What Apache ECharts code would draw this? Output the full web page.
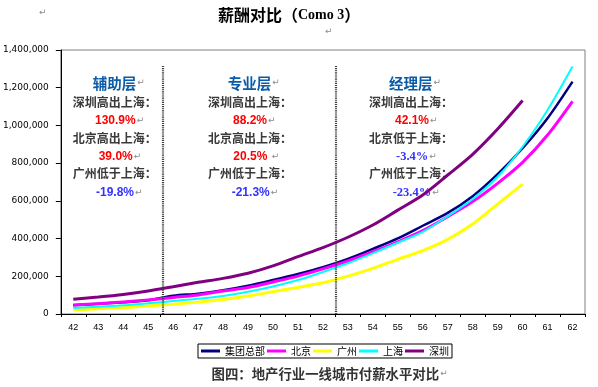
<!DOCTYPE html>
<html>
<head>
<meta charset="utf-8">
<script src="https://cdn.jsdelivr.net/npm/echarts@6/dist/echarts.min.js"></script>
<style>
html,body{margin:0;padding:0;background:#fff;}
#c{width:598px;height:387px;}
</style>
</head>
<body>
<div id="c"></div>
<script>
// ---- data ----
const ages = [42,43,44,45,46,47,48,49,50,51,52,53,54,55,56,57,58,59,60,61,62];
const hq        = [46000,54000,62000,73000,97000,108000,126000,150000,180000,212000,248000,292000,345000,401000,468000,536000,625000,742000,879000,1038000,1232000];
const beijing   = [48000,55000,63000,74000,88000,101000,122000,141000,170000,201000,239000,281000,330000,383000,442000,516000,596000,693000,804000,949000,1128000];
const guangzhou = [23000,28000,34000,43000,52000,63000,77000,95000,118000,141000,166000,201000,242000,290000,336000,396000,477000,583000,689000];
const shanghai  = [32000,39000,46000,57000,69000,81000,96000,118000,146000,180000,223000,269000,322000,378000,436000,518000,610000,728000,887000,1082000,1312000];
const shenzhen  = [78000,90000,104000,122000,145000,168000,189000,216000,255000,304000,352000,407000,472000,551000,631000,737000,847000,981000,1132000];
const seriesNames = ['集团总部','北京','广州','上海','深圳'];
const dividerAges = [45.6, 52.5];
const dividerTop = 1315000;

const levels = ['辅助层','专业层','经理层'];
const szLabels = ['深圳高出上海：','深圳高出上海：','深圳高出上海：'];
const szValues = ['130.9%','88.2%','42.1%'];
const bjLabels = ['北京高出上海：','北京高出上海：','北京低于上海：'];
const bjValues = ['39.0%','20.5% ','-3.4%'];
const gzLabels = ['广州低于上海：','广州低于上海：','广州低于上海：'];
const gzValues = ['-19.8%','-21.3%','-23.4%'];
const titleText = ['薪酬对比（','Como 3','）'];
const captionText = '图四：地产行业一线城市付薪水平对比';

// ---- chart ----
const colors = ['#000080','#ff00ff','#ffff00','#00ffff','#800080'];
const widths = [2.5,3,3,2,3];
const allData = [hq, beijing, guangzhou, shanghai, shenzhen];

const CJK = '"Noto Sans CJK SC", sans-serif';
const RET = {fontSize: 9, fontFamily: 'DejaVu Sans', fill: '#8a8a8a', color: '#8a8a8a', padding:[0,0,0,1]};

function txt(x, y, parts, extra) {
  return Object.assign({
    type: 'text', x: x, y: y, silent: true,
    style: {
      text: parts,
      textAlign: 'left', align: 'left',
      textVerticalAlign: 'middle', verticalAlign: 'middle',
      rich: {
        lv: {fontSize: 14.5, fontWeight: 'bold', fontFamily: CJK, fill: '#0b5ca8', color: '#0b5ca8'},
        lb: {fontSize: 12, fontWeight: 'bold', fontFamily: CJK, fill: '#3a3a3a', color: '#3a3a3a'},
        red: {fontSize: 12, fontWeight: 'bold', fontFamily: 'Liberation Sans', fill: '#ff0000', color: '#ff0000'},
        blue: {fontSize: 12, fontWeight: 'bold', fontFamily: 'Liberation Sans', fill: '#3333ff', color: '#3333ff'},
        blueS: {fontSize: 12.5, fontWeight: 'bold', fontFamily: 'Liberation Serif', fill: '#3333ff', color: '#3333ff'},
        r: RET
      }
    }
  }, extra || {});
}

const colX = {
  lv: [92.7, 227.7, 389],
  lb: [72.7, 208, 369],
  sz: [95, 233, 395],
  bj: [98.7, 233.3, 396],
  gz: [96, 231.7, 392.7]
};
const rowY = [83, 102, 121, 138.5, 157, 173.5, 193];

const graphics = [];
for (let i = 0; i < 3; i++) {
  graphics.push(txt(colX.lv[i], rowY[0], '{lv|' + levels[i] + '}{r|↵}'));
  graphics.push(txt(colX.lb[i], rowY[1], '{lb|' + szLabels[i] + '}'));
  graphics.push(txt(colX.sz[i], rowY[2], '{red|' + szValues[i] + '}{r|↵}'));
  graphics.push(txt(colX.lb[i], rowY[3], '{lb|' + bjLabels[i] + '}'));
  const bjStyle = bjValues[i].indexOf('-') === 0 ? 'blueS' : 'red';
  graphics.push(txt(colX.bj[i], rowY[4], '{' + bjStyle + '|' + bjValues[i] + '}{r|↵}'));
  graphics.push(txt(colX.lb[i], rowY[5], '{lb|' + gzLabels[i] + '}'));
  const gzStyle = i === 2 ? 'blueS' : 'blue';
  graphics.push(txt(colX.gz[i], rowY[6], '{' + gzStyle + '|' + gzValues[i] + '}{r|↵}'));
}
// title
graphics.push({
  type: 'text', x: 218, y: 15, silent: true,
  style: {
    text: '{a|' + titleText[0] + '}{b|' + titleText[1] + '}{a|' + titleText[2] + '}',
    textAlign: 'left', align: 'left', textVerticalAlign: 'middle', verticalAlign: 'middle',
    rich: {
      a: {fontSize: 16, fontWeight: 'bold', fontFamily: CJK, fill: '#000', color: '#000'},
      b: {fontSize: 14, fontWeight: 'bold', fontFamily: 'Liberation Serif', fill: '#000', color: '#000'}
    }
  }
});
graphics.push(txt(38, 13, '{r|↵}'));
graphics.push(txt(324, 32, '{r|↵}'));
// caption
graphics.push({
  type: 'text', x: 211.5, y: 374, silent: true,
  style: {
    text: '{c|' + captionText + '}{r|↵}',
    textAlign: 'left', align: 'left', textVerticalAlign: 'middle', verticalAlign: 'middle',
    rich: {
      c: {fontSize: 13.4, fontWeight: 'bold', fontFamily: CJK, fill: '#333', color: '#333'},
      r: RET
    }
  }
});

const series = allData.map(function (arr, k) {
  const s = {
    name: seriesNames[k],
    type: 'line',
    xAxisIndex: 1,
    yAxisIndex: 0,
    data: arr.map(function (v, i) { return [ages[i], v]; }),
    symbol: 'none',
    showSymbol: false,
    smooth: 0.3,
    silent: true,
    animation: false,
    lineStyle: {color: colors[k], width: widths[k]},
    itemStyle: {color: colors[k]}
  };
  if (k === allData.length - 1) {
    s.markLine = {
      silent: true,
      symbol: ['none', 'none'],
      animation: false,
      label: {show: false},
      lineStyle: {color: '#3c3c3c', type: [1, 0.9], width: 2.2},
      data: dividerAges.map(function (a) {
        return [{coord: [a, 0]}, {coord: [a, dividerTop]}];
      })
    };
  }
  return s;
});

const chart = echarts.init(document.getElementById('c'), null, {renderer: 'canvas'});
chart.setOption({
  animation: false,
  backgroundColor: '#fff',
  grid: {left: 60, right: 13, top: 50, bottom: 73, show: true, borderColor: '#808080', borderWidth: 1, backgroundColor: 'transparent'},
  legend: {
    data: seriesNames,
    left: 198, top: 344,
    orient: 'horizontal',
    icon: 'rect',
    itemWidth: 19, itemHeight: 3,
    itemGap: 2,
    padding: [1, 3],
    borderColor: '#000', borderWidth: 1,
    selectedMode: false,
    textStyle: {fontSize: 10, fontFamily: CJK, color: '#000', lineHeight: 12}
  },
  xAxis: [
    {
      type: 'category',
      data: ages.map(String),
      boundaryGap: true,
      axisLine: {lineStyle: {color: '#000', width: 1}},
      axisTick: {show: true, length: 3, lineStyle: {color: '#000'}},
      axisLabel: {fontSize: 9, fontFamily: 'Liberation Sans', color: '#000', margin: 9},
      splitLine: {show: false}
    },
    {
      type: 'value',
      min: 41.5, max: 62.5,
      show: false,
      splitLine: {show: false}
    }
  ],
  yAxis: {
    type: 'value',
    min: 0, max: 1400000, interval: 200000,
    axisLine: {show: true, lineStyle: {color: '#000', width: 1}},
    axisTick: {show: true, length: 5, lineStyle: {color: '#000'}},
    axisLabel: {fontSize: 9, fontFamily: 'DejaVu Sans', color: '#000', margin: 12,
      formatter: function (v) { return v.toLocaleString('en-US'); }},
    splitLine: {show: false}
  },
  series: series,
  graphic: graphics
});
</script>
</body>
</html>
